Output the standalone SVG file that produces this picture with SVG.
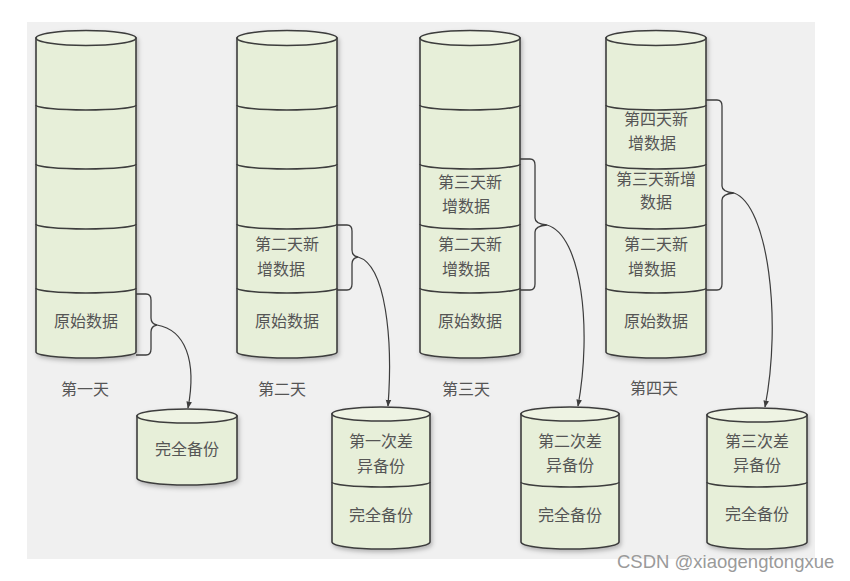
<svg xmlns="http://www.w3.org/2000/svg" width="850" height="581" viewBox="0 0 850 581">
<style>
.body{fill:#e7efd9;stroke:#3d3d3d;stroke-width:1.6}
.top{fill:#eef3e3;stroke:#3d3d3d;stroke-width:1.6}
.div{fill:none;stroke:#3d3d3d;stroke-width:1.6}
.brace{fill:none;stroke:#3d3d3d;stroke-width:1.3}
.arrow{fill:none;stroke:#3d3d3d;stroke-width:1.2;marker-end:url(#ah)}
.t{font-family:"Noto Sans CJK SC","Noto Sans",sans-serif;font-size:16px;fill:#555;text-anchor:middle;dominant-baseline:central}
.wm{font-family:"Liberation Sans","DejaVu Sans",sans-serif;font-size:18.5px;fill:#9a9a9a}
</style>
<defs>
<marker id="ah" viewBox="0 0 10 10" refX="9" refY="5" markerWidth="7" markerHeight="7" orient="auto" markerUnits="userSpaceOnUse">
<path d="M0,1 L10,5 L0,9 z" fill="#3d3d3d"/>
</marker>
<filter id="sh" x="-10%" y="-10%" width="130%" height="130%">
<feDropShadow dx="1.5" dy="2.5" stdDeviation="2" flood-color="#000" flood-opacity="0.25"/>
</filter>
</defs>
<rect width="850" height="581" fill="#ffffff"/>
<rect x="27" y="22" width="788" height="537" fill="#f0f0f0"/>

<g id="day1" filter="url(#sh)">
<path class="body" d="M36,38 L36,352 A50,6 0 0 0 136,352 L136,38 Z"/>
<ellipse class="top" cx="86" cy="38" rx="50" ry="7.5"/>
<path class="div" d="M36,105 A50,5 0 0 0 136,105 M36,164 A50,5 0 0 0 136,164 M36,224 A50,5 0 0 0 136,224 M36,288 A50,5 0 0 0 136,288"/>
</g>
<text class="t" x="86" y="320">原始数据</text>
<text class="t" x="85" y="388">第一天</text>

<g id="day2" filter="url(#sh)">
<path class="body" d="M237,38 L237,352 A50,6 0 0 0 337,352 L337,38 Z"/>
<ellipse class="top" cx="287" cy="38" rx="50" ry="7.5"/>
<path class="div" d="M237,105 A50,5 0 0 0 337,105 M237,164 A50,5 0 0 0 337,164 M237,224 A50,5 0 0 0 337,224 M237,288 A50,5 0 0 0 337,288"/>
</g>
<text class="t" x="287" y="243">第二天新</text>
<text class="t" x="281" y="268">增数据</text>
<text class="t" x="287" y="320">原始数据</text>
<text class="t" x="282" y="388">第二天</text>

<g id="day3" filter="url(#sh)">
<path class="body" d="M420,38 L420,352 A50,6 0 0 0 520,352 L520,38 Z"/>
<ellipse class="top" cx="470" cy="38" rx="50" ry="7.5"/>
<path class="div" d="M420,105 A50,5 0 0 0 520,105 M420,164 A50,5 0 0 0 520,164 M420,224 A50,5 0 0 0 520,224 M420,288 A50,5 0 0 0 520,288"/>
</g>
<text class="t" x="470" y="181">第三天新</text>
<text class="t" x="466" y="205">增数据</text>
<text class="t" x="470" y="243">第二天新</text>
<text class="t" x="466" y="268">增数据</text>
<text class="t" x="470" y="320">原始数据</text>
<text class="t" x="466" y="388">第三天</text>

<g id="day4" filter="url(#sh)">
<path class="body" d="M606,38 L606,352 A50,6 0 0 0 706,352 L706,38 Z"/>
<ellipse class="top" cx="656" cy="38" rx="50" ry="7.5"/>
<path class="div" d="M606,105 A50,5 0 0 0 706,105 M606,164 A50,5 0 0 0 706,164 M606,224 A50,5 0 0 0 706,224 M606,288 A50,5 0 0 0 706,288"/>
</g>
<text class="t" x="656" y="118">第四天新</text>
<text class="t" x="652" y="142">增数据</text>
<text class="t" x="656" y="178">第三天新增</text>
<text class="t" x="656" y="201">数据</text>
<text class="t" x="656" y="243">第二天新</text>
<text class="t" x="652" y="268">增数据</text>
<text class="t" x="656" y="320">原始数据</text>
<text class="t" x="654" y="387">第四天</text>

<g id="backup1" filter="url(#sh)">
<path class="body" d="M137,416 L137,478 A50,7 0 0 0 237,478 L237,416 Z"/>
<ellipse class="top" cx="187" cy="416" rx="50" ry="7"/>
</g>
<text class="t" x="187" y="448">完全备份</text>

<g id="backup2" filter="url(#sh)">
<path class="body" d="M332,414 L332,542 A49,7 0 0 0 430,542 L430,414 Z"/>
<ellipse class="top" cx="381" cy="414" rx="49" ry="7"/>
<path class="div" d="M332,482 A49,5 0 0 0 430,482"/>
</g>
<text class="t" x="381" y="440">第一次差</text>
<text class="t" x="381" y="465">异备份</text>
<text class="t" x="381" y="514">完全备份</text>

<g id="backup3" filter="url(#sh)">
<path class="body" d="M521,414 L521,542 A49,7 0 0 0 619,542 L619,414 Z"/>
<ellipse class="top" cx="570" cy="414" rx="49" ry="7"/>
<path class="div" d="M521,482 A49,5 0 0 0 619,482"/>
</g>
<text class="t" x="570" y="440">第二次差</text>
<text class="t" x="570" y="464">异备份</text>
<text class="t" x="570" y="514">完全备份</text>

<g id="backup4" filter="url(#sh)">
<path class="body" d="M707,415 L707,542 A50,7 0 0 0 807,542 L807,415 Z"/>
<ellipse class="top" cx="757" cy="415" rx="50" ry="7"/>
<path class="div" d="M707,482 A50,5 0 0 0 807,482"/>
</g>
<text class="t" x="757" y="440">第三次差</text>
<text class="t" x="757" y="464">异备份</text>
<text class="t" x="757" y="513">完全备份</text>

<g id="connectors">
<path class="brace" d="M136,294 L146,294 Q151,294 151,300 L151,318 Q151,324 157,325 Q151,326 151,332 L151,349 Q151,355 146,355 L136,355"/>
<path class="brace" d="M337,225 L347,225 Q352,225 352,231 L352,250 Q352,256 358,257 Q352,258 352,264 L352,284 Q352,290 347,290 L337,290"/>
<path class="brace" d="M520,159 L530,159 Q535,159 535,165 L535,218 Q535,224 547,225 Q535,226 535,232 L535,284 Q535,290 530,290 L520,290"/>
<path class="brace" d="M706,100 L717,100 Q722,100 722,106 L722,186 Q722,192 734,193 Q722,194 722,200 L722,284 Q722,290 717,290 L706,290"/>
<path class="arrow" d="M157,325 C185,330 197,360 188,408"/>
<path class="arrow" d="M358,257 C386,265 393,340 388,406"/>
<path class="arrow" d="M547,225 C582,235 592,330 578,406"/>
<path class="arrow" d="M734,193 C768,205 782,320 765,407"/>
</g>

<text class="wm" x="617" y="568">CSDN @xiaogengtongxue</text>
</svg>
